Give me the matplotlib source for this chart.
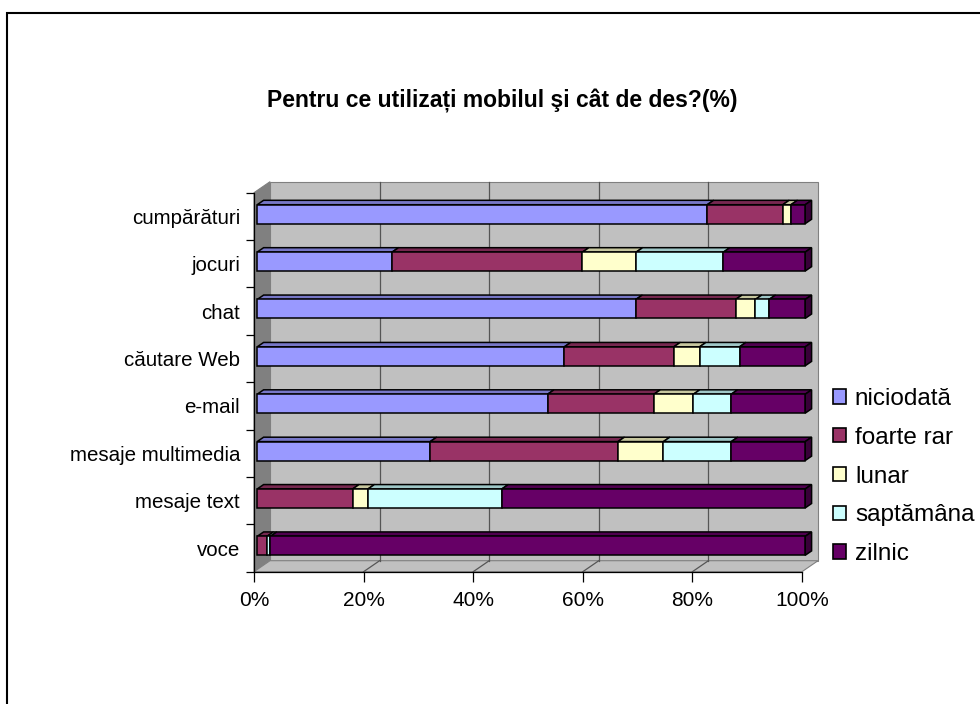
import numpy as np
import matplotlib.pyplot as plt
from matplotlib.patches import Polygon, Rectangle, Patch
from matplotlib.colors import to_rgb

plt.rcParams['font.family'] = ['Liberation Sans', 'DejaVu Sans']

# --- data (% of respondents) ----------------------------------------------
categories = ["cumpărături", "jocuri", "chat", "căutare Web", "e-mail",
              "mesaje multimedia", "mesaje text", "voce"]
series = ["niciodată", "foarte rar", "lunar", "saptămâna", "zilnic"]
niciodata = [82.2, 24.6, 69.1, 56.1, 53.0, 31.6, 0.0, 0.0]
foarte_rar = [13.8, 34.7, 18.2, 20.0, 19.4, 34.3, 17.4, 1.8]
lunar = [1.5, 9.8, 3.6, 4.7, 7.2, 8.3, 2.8, 0.0]
saptamana = [0.0, 15.9, 2.5, 7.3, 6.9, 12.4, 24.4, 0.6]
zilnic = [2.6, 14.9, 6.6, 12.0, 13.5, 13.5, 55.3, 97.6]
colors = ["#9999FF", "#993366", "#FFFFCC", "#CCFFFF", "#660066"]
xticks = [0, 20, 40, 60, 80, 100]
title = "Pentru ce utilizați mobilul şi cât de des?(%)"

vals = np.array([niciodata, foarte_rar, lunar, saptamana, zilnic], float)
vals = vals / vals.sum(axis=0) * 100          # 100% stacked
n = len(categories)

W, H = 980, 704
fig = plt.figure(figsize=(W / 100, H / 100), dpi=100)

# front plane of the pseudo-3D plot area (pixel coords from the reference)
x0, x1, ytop, ybot = 254, 802, 192.7, 571.7
ax = fig.add_axes([x0 / W, 1 - ybot / H, (x1 - x0) / W, (ybot - ytop) / H])
ax.set_xlim(0, 100)
ax.set_ylim(n - 0.5, -0.5)
ax.patch.set_visible(False)

# depth vector in data units (16 px right, 11 px up)
dx = 16 / (x1 - x0) * 100
dy = -11 / ((ybot - ytop) / n)


def poly(pts, fc, ec, lw=0.8, z=1):
    ax.add_patch(Polygon(pts, closed=True, facecolor=fc, edgecolor=ec,
                         lw=lw, zorder=z, clip_on=False))


def shade(c, k):
    return tuple(np.array(to_rgb(c)) * k)


yt, yb = -0.5, n - 0.5
# back wall, side wall, floor
poly([(dx, yt + dy), (100 + dx, yt + dy), (100 + dx, yb + dy), (dx, yb + dy)],
     "#C0C0C0", "#808080", z=0)
poly([(0, yt), (dx, yt + dy), (dx, yb + dy), (0, yb)], "#808080", "#808080", z=0.5)
poly([(0, yb), (100, yb), (100 + dx, yb + dy), (dx, yb + dy)],
     "#C0C0C0", "#808080", z=0.5)
for t in xticks[1:-1]:
    ax.plot([t + dx, t + dx], [yt + dy, yb + dy], color="#555555", lw=0.9, zorder=0.6,
            clip_on=False)
    ax.plot([t, t + dx], [yb, yb + dy], color="#555555", lw=0.9, zorder=0.6,
            clip_on=False)

# stacked 3D bars
h = 0.40
f0, f1 = 0.2, 0.6
for i in range(n):
    left = 0.0
    ox, oy = f0 * dx, f0 * dy
    bx, by = (f1 - f0) * dx, (f1 - f0) * dy
    top = i - h / 2 + oy
    last = None
    for s in range(len(series)):
        w = vals[s, i]
        if w <= 0.05:
            left += w
            continue
        L, R = left + ox, left + w + ox
        poly([(L, top), (R, top), (R + bx, top + by), (L + bx, top + by)],
             shade(colors[s], 0.78), "black", lw=1.1, z=2)
        ax.add_patch(Rectangle((L, top), w, h, facecolor=colors[s],
                               edgecolor="black", lw=1.1, zorder=3, clip_on=False))
        last = (R, colors[s])
        left += w
    R, c = last
    poly([(R, top), (R + bx, top + by), (R + bx, top + h + by), (R, top + h)],
         shade(c, 0.55), "black", lw=1.1, z=2)

# axes, ticks, labels
for sp in ["top", "right"]:
    ax.spines[sp].set_visible(False)
for sp in ["left", "bottom"]:
    ax.spines[sp].set_color("black")
    ax.spines[sp].set_linewidth(0.9)
    ax.spines[sp].set_zorder(1)
ax.set_xticks(xticks)
ax.set_xticklabels([f"{t}%" for t in xticks])
ax.tick_params(axis="x", length=7, width=0.9, pad=7, labelsize=15)
ax.set_yticks(np.arange(-0.5, n, 1.0))
ax.set_yticklabels([])
ax.tick_params(axis="y", length=6, width=0.9)
ax.set_yticks(np.arange(n), minor=True)
ax.set_yticklabels(categories, minor=True)
ax.tick_params(axis="y", which="minor", length=0, pad=10, labelsize=14.8)

fig.text(502 / W, 1 - 101 / H, title, ha="center", va="center",
         fontsize=16.5, weight="bold")

handles = [Patch(facecolor=c, edgecolor="black", lw=1.2) for c in colors]
fig.legend(handles, series, loc="upper left", bbox_to_anchor=(833 / W, 1 - 388 / H),
           frameon=False, fontsize=17.5, handlelength=0.53, handleheight=0.53,
           handletextpad=0.37, labelspacing=0.69, borderaxespad=0, borderpad=0)

fig.patches.append(Rectangle((7 / W, -0.1), 1.2, 1.1 - 12.7 / H, transform=fig.transFigure,
                             fill=False, edgecolor="black", lw=1.5))

fig.savefig("out.png", dpi=100)
